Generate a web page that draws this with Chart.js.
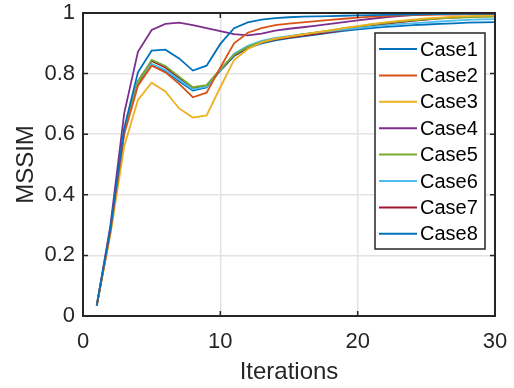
<!DOCTYPE html>
<html>
<head>
<meta charset="utf-8">
<script src="https://cdn.jsdelivr.net/npm/chart.js@4/dist/chart.umd.min.js"></script>
<style>
  html, body { margin: 0; padding: 0; background: #fff; }
  canvas { display: block; }
</style>
</head>
<body>
<canvas id="ssimChart" width="514" height="388"></canvas>
<script>
// iterations 1..30
const iterations = Array.from({ length: 30 }, (_, i) => i + 1);
const caseLabels = ['Case1', 'Case2', 'Case3', 'Case4', 'Case5', 'Case6', 'Case7', 'Case8'];
const caseColors = ['#0072BD', '#D95319', '#EDB120', '#7E2F8E', '#77AC30', '#4DBEEE', '#A2142F', '#0072BD'];

const case1 = [0.034, 0.29, 0.62, 0.804, 0.876, 0.879, 0.850, 0.810, 0.826, 0.898, 0.950, 0.969, 0.978, 0.983, 0.986, 0.988, 0.989, 0.990, 0.991, 0.992, 0.993, 0.994, 0.995, 0.995, 0.996, 0.996, 0.997, 0.997, 0.997, 0.998];
const case2 = [0.034, 0.28, 0.60, 0.760, 0.826, 0.804, 0.766, 0.722, 0.737, 0.820, 0.900, 0.935, 0.950, 0.960, 0.965, 0.969, 0.973, 0.977, 0.981, 0.985, 0.988, 0.990, 0.992, 0.993, 0.994, 0.995, 0.995, 0.996, 0.996, 0.996];
const case3 = [0.034, 0.27, 0.56, 0.713, 0.770, 0.741, 0.685, 0.655, 0.662, 0.755, 0.845, 0.881, 0.903, 0.915, 0.922, 0.929, 0.936, 0.943, 0.950, 0.957, 0.963, 0.969, 0.974, 0.978, 0.982, 0.985, 0.988, 0.990, 0.991, 0.992];
const case4 = [0.034, 0.30, 0.669, 0.872, 0.944, 0.964, 0.968, 0.960, 0.950, 0.940, 0.930, 0.926, 0.932, 0.942, 0.948, 0.953, 0.958, 0.964, 0.970, 0.976, 0.981, 0.986, 0.990, 0.993, 0.995, 0.997, 0.998, 0.998, 0.999, 0.999];
const case5 = [0.034, 0.28, 0.61, 0.770, 0.845, 0.825, 0.790, 0.755, 0.762, 0.815, 0.862, 0.888, 0.905, 0.915, 0.922, 0.929, 0.936, 0.943, 0.950, 0.956, 0.962, 0.967, 0.972, 0.976, 0.979, 0.982, 0.984, 0.986, 0.987, 0.988];
const case6 = [0.034, 0.28, 0.61, 0.775, 0.832, 0.812, 0.780, 0.748, 0.757, 0.812, 0.866, 0.892, 0.908, 0.918, 0.924, 0.930, 0.935, 0.940, 0.945, 0.950, 0.955, 0.959, 0.963, 0.966, 0.969, 0.972, 0.975, 0.977, 0.979, 0.980];
const case7 = [0.034, 0.28, 0.61, 0.775, 0.842, 0.820, 0.785, 0.752, 0.758, 0.812, 0.860, 0.886, 0.903, 0.913, 0.919, 0.925, 0.931, 0.937, 0.944, 0.951, 0.957, 0.963, 0.969, 0.974, 0.978, 0.982, 0.985, 0.987, 0.989, 0.990];
const case8 = [0.034, 0.28, 0.61, 0.770, 0.830, 0.808, 0.775, 0.744, 0.754, 0.810, 0.858, 0.884, 0.900, 0.910, 0.917, 0.923, 0.929, 0.935, 0.941, 0.946, 0.950, 0.954, 0.957, 0.960, 0.962, 0.964, 0.966, 0.968, 0.969, 0.970];

const xTicks = [0, 10, 20, 30];
const yTicks = [0, 0.2, 0.4, 0.6, 0.8, 1];

const allCases = [case1, case2, case3, case4, case5, case6, case7, case8];
const FONT = "'Liberation Sans', Arial, Helvetica, sans-serif";
const INK = '#262626';

// MATLAB-ish box, inward ticks and legend
const matlabAxes = {
  id: 'matlabAxes',
  afterDatasetsDraw(chart) {
    const { ctx, chartArea: a, scales } = chart;
    const tl = 5;
    ctx.save();
    ctx.strokeStyle = INK;
    ctx.lineWidth = 1.5;
    ctx.beginPath();
    xTicks.forEach((v) => {
      const px = scales.x.getPixelForValue(v);
      ctx.moveTo(px, a.bottom); ctx.lineTo(px, a.bottom - tl);
      ctx.moveTo(px, a.top); ctx.lineTo(px, a.top + tl);
    });
    yTicks.forEach((v) => {
      const py = scales.y.getPixelForValue(v);
      ctx.moveTo(a.left, py); ctx.lineTo(a.left + tl, py);
      ctx.moveTo(a.right, py); ctx.lineTo(a.right - tl, py);
    });
    ctx.stroke();
    ctx.lineWidth = 2;
    ctx.strokeRect(a.left, a.top, a.right - a.left, a.bottom - a.top);

    // legend
    const lx = 375, ly = 33, lw = 110, lh = 216;
    ctx.fillStyle = '#fff';
    ctx.fillRect(lx, ly, lw, lh);
    ctx.lineWidth = 1.5;
    ctx.strokeRect(lx, ly, lw, lh);
    ctx.font = '20px ' + FONT;
    ctx.textBaseline = 'middle';
    ctx.textAlign = 'left';
    chart.data.datasets.forEach((ds, i) => {
      const cy = 49 + i * 26.4;
      ctx.strokeStyle = ds.borderColor;
      ctx.lineWidth = 2;
      ctx.beginPath();
      ctx.moveTo(379, cy); ctx.lineTo(417, cy);
      ctx.stroke();
      ctx.fillStyle = '#000';
      ctx.fillText(ds.label, 420, cy + 1);
    });
    ctx.restore();
  },
};

const noPad = (scale) => {
  scale.paddingTop = 0;
  scale.paddingBottom = 0;
  scale.paddingLeft = 0;
  scale.paddingRight = 0;
};

new Chart(document.getElementById('ssimChart'), {
  type: 'line',
  data: {
    datasets: allCases.map((vals, i) => ({
      label: caseLabels[i],
      data: vals.map((v, j) => ({ x: iterations[j], y: v })),
      borderColor: caseColors[i],
      borderWidth: 1.8,
      pointRadius: 0,
      fill: false,
      tension: 0,
    })),
  },
  options: {
    responsive: false,
    animation: false,
    layout: { padding: { top: 13, right: 19, left: 0, bottom: 0 } },
    plugins: { legend: { display: false }, tooltip: { enabled: false } },
    scales: {
      x: {
        type: 'linear',
        min: 0,
        max: 30,
        afterBuildTicks: (scale) => { scale.ticks = xTicks.map((v) => ({ value: v })); },
        afterFit: (scale) => { scale.height = 72; noPad(scale); },
        grid: { color: '#e3e3e3', lineWidth: 1.5, drawTicks: false },
        border: { display: false },
        ticks: { color: INK, font: { family: FONT, size: 22 }, padding: 13, maxRotation: 0 },
        title: { display: true, text: 'Iterations', color: INK, font: { family: FONT, size: 24 }, padding: { top: 0, bottom: 1 } },
      },
      y: {
        min: 0,
        max: 1,
        afterBuildTicks: (scale) => { scale.ticks = yTicks.map((v) => ({ value: v })); },
        afterFit: (scale) => { scale.width = 83; noPad(scale); },
        grid: { color: '#e3e3e3', lineWidth: 1.5, drawTicks: false },
        border: { display: false },
        ticks: {
          color: INK,
          font: { family: FONT, size: 22 },
          padding: 8,
          callback: (v) => String(+v.toFixed(1)),
        },
        title: { display: true, text: 'MSSIM', color: INK, font: { family: FONT, size: 24 }, padding: { top: 12, bottom: 0 } },
      },
    },
  },
  plugins: [matlabAxes],
});
</script>
</body>
</html>
